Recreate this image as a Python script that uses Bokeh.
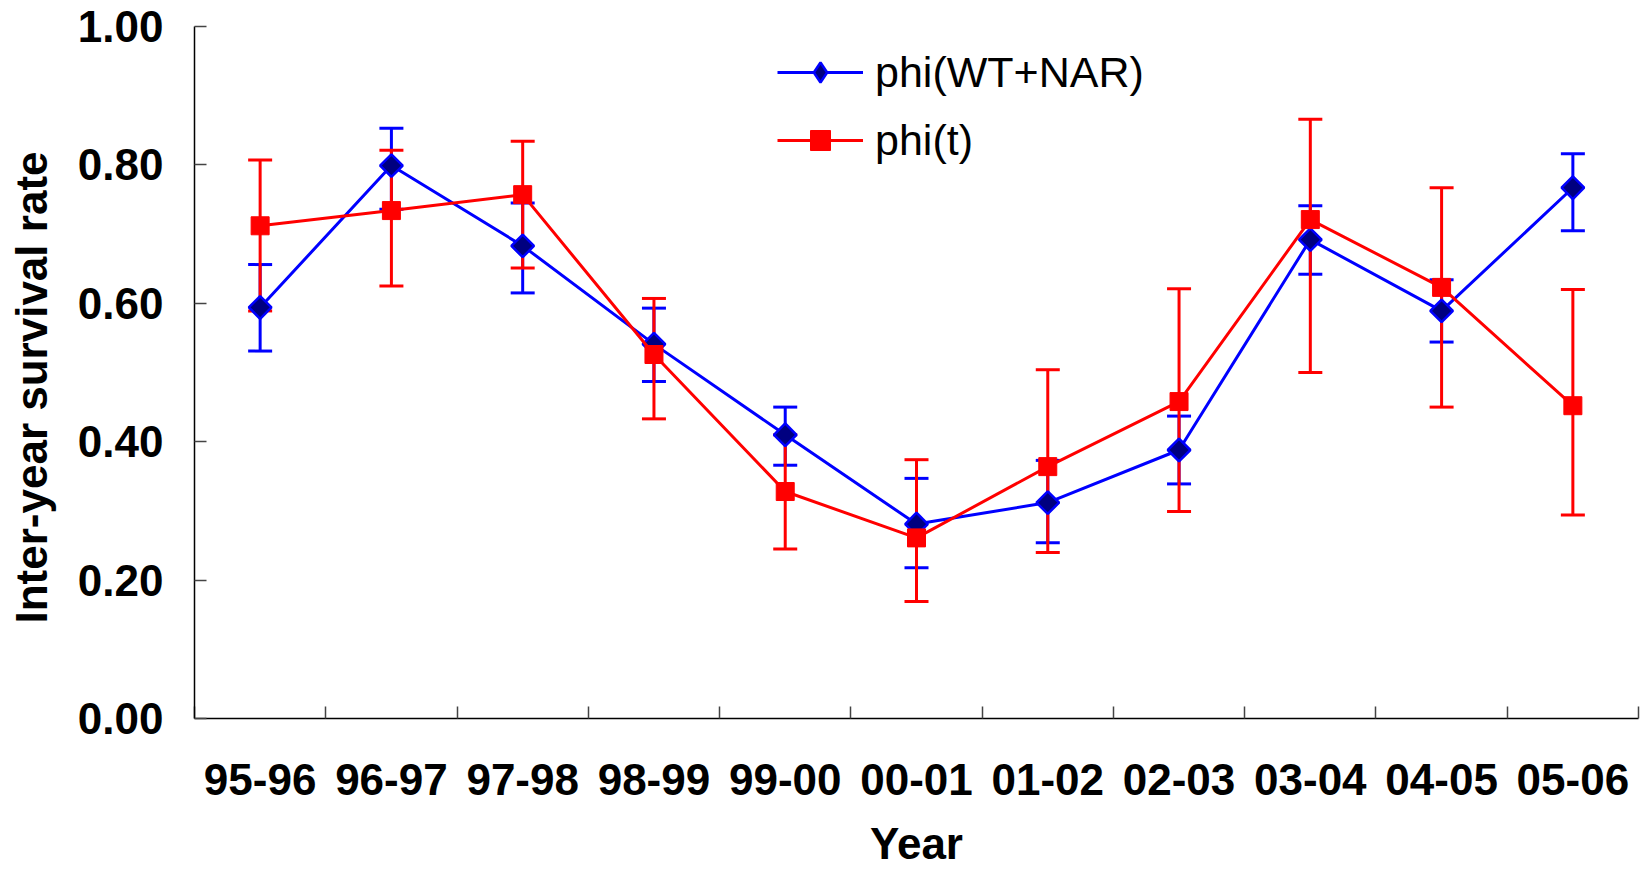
from bokeh.plotting import figure
from bokeh.models import (Range1d, FixedTicker, NumeralTickFormatter, Whisker, TeeHead,
                          ColumnDataSource, Legend, LegendItem, Label)
from bokeh.embed import file_html
from bokeh.resources import INLINE
import numpy as np

categories = ["95-96", "96-97", "97-98", "98-99", "99-00", "00-01",
              "01-02", "02-03", "03-04", "04-05", "05-06"]

wt_nar = [0.594, 0.799, 0.683, 0.541, 0.410, 0.281, 0.312, 0.388, 0.692, 0.589, 0.767]
wt_nar_upper = [0.656, 0.853, 0.745, 0.593, 0.450, 0.347, 0.373, 0.437, 0.741, 0.634, 0.816]
wt_nar_lower = [0.531, 0.736, 0.615, 0.487, 0.366, 0.218, 0.254, 0.339, 0.642, 0.544, 0.705]

phi_t = [0.712, 0.734, 0.757, 0.526, 0.328, 0.261, 0.364, 0.458, 0.721, 0.623, 0.452]
phi_t_upper = [0.807, 0.821, 0.834, 0.607, 0.410, 0.374, 0.504, 0.621, 0.866, 0.767, 0.620]
phi_t_lower = [0.589, 0.625, 0.651, 0.433, 0.245, 0.169, 0.240, 0.299, 0.500, 0.450, 0.294]

y_ticks = [0.0, 0.2, 0.4, 0.6, 0.8, 1.0]

BLUE = "#0000FF"
NAVY = "#000080"
RED = "#FF0000"
FONT = "Liberation Sans"
BOLD_SIZE = "44px"

n = len(categories)
xc = np.arange(n) + 0.5

src_b = ColumnDataSource(dict(x=xc, y=wt_nar, up=wt_nar_upper, lo=wt_nar_lower))
src_r = ColumnDataSource(dict(x=xc, y=phi_t, up=phi_t_upper, lo=phi_t_lower))

p = figure(width=1640, height=872, x_range=Range1d(0, n), y_range=Range1d(0, 1),
           output_backend="svg", toolbar_location=None,
           min_border_left=194, min_border_right=2, min_border_top=26, min_border_bottom=154)
p.outline_line_color = None
p.xgrid.visible = False
p.ygrid.visible = False
p.background_fill_color = "white"
p.border_fill_color = "white"

# error bars
for src, col in ((src_b, BLUE), (src_r, RED)):
    w = Whisker(source=src, base="x", upper="up", lower="lo", dimension="height",
                line_color=col, line_width=3,
                upper_head=TeeHead(size=24, line_color=col, line_width=3),
                lower_head=TeeHead(size=24, line_color=col, line_width=3))
    p.add_layout(w)

bl = p.line("x", "y", source=src_b, line_color=BLUE, line_width=3)
# diamond glyph (used for the legend key; fully covered by the rotated squares below)
bd = p.scatter("x", "y", source=src_b, marker="diamond", size=21,
               fill_color=NAVY, line_color=BLUE, line_width=2.5)
bm = p.scatter("x", "y", source=src_b, marker="square", angle=np.pi / 4, size=16,
               fill_color=NAVY, line_color=BLUE, line_width=2.5)
rl = p.line("x", "y", source=src_r, line_color=RED, line_width=3)
rm = p.scatter("x", "y", source=src_r, marker="square", size=18,
               fill_color=RED, line_color=RED, line_width=1)

# x axis: labels at category centres, ticks at boundaries
xa = p.xaxis[0]
xa.ticker = FixedTicker(ticks=list(xc), minor_ticks=list(range(n + 1)))
xa.major_label_overrides = {float(x): c for x, c in zip(xc, categories)}
xa.major_tick_line_color = None
xa.minor_tick_in = 12
xa.minor_tick_out = 0
xa.minor_tick_line_color = "#444444"
xa.minor_tick_line_width = 1.5
xa.axis_line_color = "black"
xa.axis_line_width = 1.5
xa.major_label_text_font = FONT
xa.major_label_text_font_style = "bold"
xa.major_label_text_font_size = BOLD_SIZE
xa.major_label_text_color = "black"
xa.major_label_standoff = 39

ya = p.yaxis[0]
ya.ticker = FixedTicker(ticks=y_ticks)
ya.formatter = NumeralTickFormatter(format="0.00")
ya.major_tick_in = 12
ya.major_tick_out = 0
ya.major_tick_line_color = "#444444"
ya.major_tick_line_width = 1.5
ya.minor_tick_line_color = None
ya.axis_line_color = "black"
ya.axis_line_width = 1.5
ya.major_label_text_font = FONT
ya.major_label_text_font_style = "bold"
ya.major_label_text_font_size = BOLD_SIZE
ya.major_label_text_color = "black"
ya.major_label_standoff = 31

# axis titles as labels in the side panels (positioned through the plot's scales)
year_lbl = Label(x=n / 2, y=-0.145, text="Year", text_align="center", text_baseline="top",
                 text_font=FONT, text_font_style="bold", text_font_size=BOLD_SIZE,
                 text_color="black")
p.add_layout(year_lbl, "below")
y_lbl = Label(x=-1.2417, y=0.4783, text="Inter-year survival rate", angle=np.pi / 2,
              text_align="center", text_baseline="middle",
              text_font=FONT, text_font_style="bold", text_font_size=BOLD_SIZE,
              text_color="black")
p.add_layout(y_lbl, "left")

legend = Legend(items=[LegendItem(label="phi(WT+NAR)", renderers=[bl, bd]),
                       LegendItem(label="phi(t)", renderers=[rl, rm])],
                location=(583, 553), orientation="vertical",
                border_line_color=None, background_fill_alpha=0,
                padding=0, margin=0, spacing=18,
                glyph_width=86, glyph_height=50, label_height=50, label_standoff=12,
                label_text_font=FONT, label_text_font_size="43px", label_text_color="black")
p.add_layout(legend)

open("out.html", "w").write(file_html(p, INLINE))
